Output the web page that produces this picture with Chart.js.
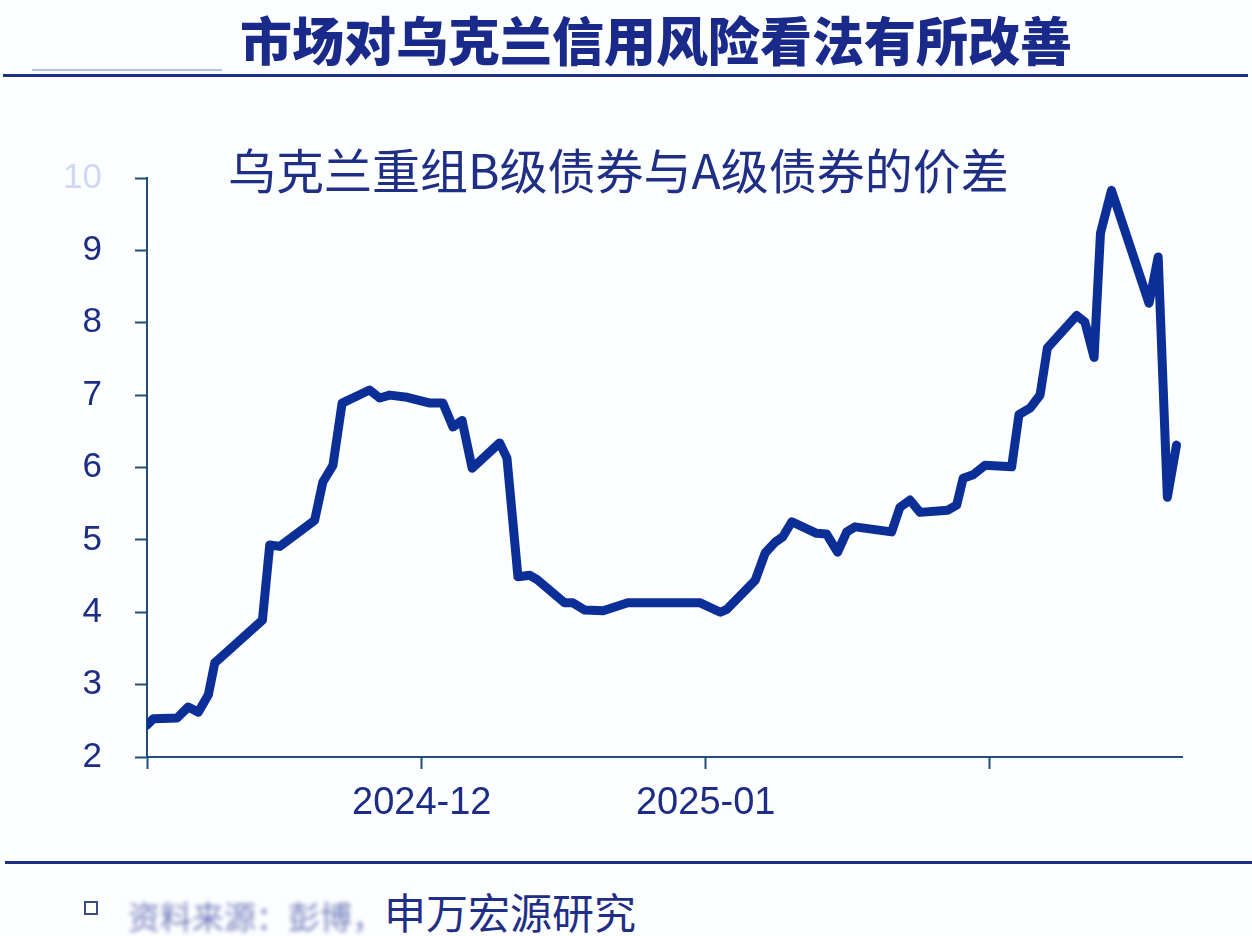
<!DOCTYPE html>
<html lang="zh-CN">
<head>
<meta charset="utf-8">
<title>市场对乌克兰信用风险看法有所改善</title>
<script src="https://cdn.jsdelivr.net/npm/chart.js@4.4.1/dist/chart.umd.min.js"></script>
<style>
    html, body { margin: 0; padding: 0; background: #fdfeff; }
    body { width: 1252px; height: 936px; position: relative; overflow: hidden; font-family: "Noto Sans CJK SC", sans-serif; }
    .title { position: absolute; left: 240px; top: 13px; font-size: 52px; line-height: 52px; font-weight: 900; color: #1a2a8a; white-space: nowrap; }
    .rule-short { position: absolute; left: 32px; top: 69px; width: 190px; height: 2px; background: #b3c0e6; }
    .rule-top { position: absolute; left: 3px; top: 74px; width: 1245px; height: 3px; background: #1a2f86; }
    .subtitle { position: absolute; left: 228px; top: 144px; font-size: 48px; line-height: 48px; color: #1f2f86; white-space: nowrap; }
    .chart-box { position: absolute; left: 0; top: 100px; width: 1252px; height: 740px; }
    .rule-bottom { position: absolute; left: 5px; top: 861px; width: 1247px; height: 3px; background: #1c2f80; }
    .source { position: absolute; left: 84px; top: 890px; height: 42px; white-space: nowrap; color: #1f2f86; }
    .source .bullet { display: inline-block; width: 10px; height: 10px; border: 2px solid #3a4a8a; vertical-align: 14px; margin-right: 30px; }
    .source .blur { font-size: 32px; line-height: 42px; color: #3b4aa0; filter: blur(2px); opacity: 0.7; }
    .source .main { font-size: 42px; line-height: 42px; }
</style>
</head>
<body>
<div class="title">市场对乌克兰信用风险看法有所改善</div>
<div class="rule-short"></div>
<div class="rule-top"></div>
<div class="chart-box"><canvas id="spreadChart"></canvas></div>
<div class="subtitle">乌克兰重组B级债券与A级债券的价差</div>
<div class="rule-bottom"></div>
<div class="source"><span class="bullet"></span><span class="blur">资料来源：彭博，</span><span class="main">申万宏源研究</span></div>

<script>
// 横轴：自 2024-11-01 起的天数
const dayOffsets = [
    0, 0.7, 3.3, 4.5, 5.6, 6.7, 7.4, 12.6, 13.4, 14.5, 18.3, 19.2, 20.3, 21.3,
    24.3, 25.4, 26.5, 28.4, 30.9, 32.3, 33.4, 34.4, 35.5, 38.5, 39.3, 40.5, 41.8, 42.6,
    45.6, 46.5, 47.8, 49.8, 52.5, 60.4, 62.6, 63.3, 66.4, 67.5, 68.6, 69.4, 70.4, 73.1,
    74.2, 75.4, 76.4, 77.3, 81.3, 82.2, 83.3, 84.4, 87.4, 88.4, 89.1, 90.2, 91.5, 94.4,
    95.2, 96.4, 97.5, 98.3, 101.5, 102.4, 103.4, 104.1, 105.3, 109.4, 110.4, 111.4, 112.4
];

// B级与A级债券价差
const spreadValues = [
    2.44, 2.53, 2.54, 2.69, 2.62, 2.86, 3.30, 3.89, 4.93, 4.91, 5.27, 5.80, 6.03, 6.89,
    7.07, 6.96, 7.00, 6.97, 6.89, 6.89, 6.56, 6.65, 5.99, 6.34, 6.13, 4.49, 4.51, 4.45,
    4.13, 4.13, 4.03, 4.02, 4.13, 4.13, 4.00, 4.04, 4.44, 4.82, 4.97, 5.04, 5.25, 5.09,
    5.08, 4.83, 5.11, 5.18, 5.11, 5.45, 5.55, 5.38, 5.41, 5.48, 5.85, 5.90, 6.03, 6.01,
    6.73, 6.82, 7.00, 7.65, 8.10, 8.01, 7.52, 9.24, 9.83, 8.27, 8.91, 5.59, 6.31
];

// 横轴刻度（月初）与标签
const xTickDays = [0, 30, 61, 92];
const xTickLabels = ['', '2024-12', '2025-01', ''];
const xMaxDay = 113;

const axisColor = '#1f4e79';
const textColor = '#1b2d86';

new Chart(document.getElementById('spreadChart'), {
    type: 'line',
    data: {
        datasets: [{
            label: '价差',
            data: dayOffsets.map((d, i) => ({ x: d, y: spreadValues[i] })),
            borderColor: '#0b2f96',
            borderWidth: 9,
            borderJoinStyle: 'round',
            borderCapStyle: 'round',
            pointRadius: 0,
            tension: 0,
            fill: false
        }]
    },
    options: {
        responsive: true,
        maintainAspectRatio: false,
        animation: false,
        layout: { padding: { top: 78, right: 70, left: 0, bottom: 0 } },
        plugins: {
            legend: { display: false },
            tooltip: { enabled: false }
        },
        scales: {
            x: {
                type: 'linear',
                min: 0,
                max: xMaxDay,
                afterBuildTicks: (scale) => {
                    scale.ticks = xTickDays.map(v => ({ value: v }));
                },
                afterFit: (scale) => { scale.height = 83; },
                border: { display: true, color: axisColor, width: 2 },
                grid: { drawOnChartArea: false, drawTicks: true, tickLength: 12, tickColor: axisColor, tickWidth: 2 },
                ticks: {
                    autoSkip: false,
                    maxRotation: 0,
                    padding: 12,
                    color: textColor,
                    font: { family: 'Liberation Sans', size: 38 },
                    callback: (value, index) => xTickLabels[index]
                }
            },
            y: {
                min: 2,
                max: 10,
                afterFit: (scale) => { scale.width = 147; },
                border: { display: true, color: axisColor, width: 2 },
                grid: { drawOnChartArea: false, drawTicks: true, tickLength: 12, tickColor: axisColor, tickWidth: 2 },
                ticks: {
                    stepSize: 1,
                    padding: 33,
                    color: (ctx) => ctx.tick.value === 10 ? 'rgba(150,170,230,0.45)' : textColor,
                    font: { family: 'Liberation Sans', size: 35 }
                }
            }
        }
    }
});
</script>
</body>
</html>
